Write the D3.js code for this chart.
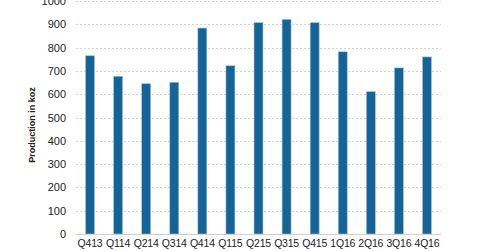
<!DOCTYPE html>
<html>
<head>
<meta charset="utf-8">
<script src="https://cdn.jsdelivr.net/npm/d3@7"></script>
<style>
body { margin: 0; background: #fff; }
text { font-family: "Liberation Sans", Arial, sans-serif; }
</style>
</head>
<body>
<div id="main"></div>
<script>
const Width = 480, Height = 251;

const quarters = ["Q413", "Q114", "Q214", "Q314", "Q414", "Q115", "Q215", "Q315", "Q415", "1Q16", "2Q16", "3Q16", "4Q16"];
const production = [765, 677, 645, 651, 884, 722, 907, 921, 907, 782, 611, 713, 760];
const yTicks = [0, 100, 200, 300, 400, 500, 600, 700, 800, 900, 1000];

const margin = {left: 76, top: 1, right: 39, bottom: 17};

const svg = d3.select("#main")
    .append("svg")
    .attr("width", Width)
    .attr("height", Height);

let Xscale = d3.scaleBand().domain(quarters).range([margin.left, Width - margin.right]).paddingInner(0.68).paddingOuter(0.34);
let Yscale = d3.scaleLinear().domain([0, 1000]).range([Height - margin.bottom, margin.top]);

// gridlines
svg.append("g").selectAll("line").data(yTicks.filter(d => d > 0)).enter().append("line")
    .attr("x1", margin.left).attr("x2", Width - margin.right)
    .attr("y1", d => Math.round(Yscale(d)) + 0.5).attr("y2", d => Math.round(Yscale(d)) + 0.5)
    .style("stroke", "#d4d4d4").style("stroke-dasharray", "2,2");

// bars
svg.append("g").selectAll("rect").data(production).enter().append("rect")
    .attr("x", (d, i) => Xscale(quarters[i]))
    .attr("y", d => Yscale(d))
    .attr("width", Xscale.bandwidth())
    .attr("height", d => Yscale(0) - Yscale(d))
    .attr("fill", "#146498")
    .attr("stroke", "#a9c3d8")
    .attr("stroke-width", 0.6);

// baseline
svg.append("line")
    .attr("x1", margin.left).attr("x2", Width - margin.right)
    .attr("y1", Yscale(0) + 0.5).attr("y2", Yscale(0) + 0.5)
    .style("stroke", "#d0d0d0");

// y tick labels
svg.append("g").selectAll("text").data(yTicks).enter().append("text")
    .attr("x", 66).attr("y", d => Yscale(d) + 4)
    .attr("text-anchor", "end")
    .style("font-size", "11px").style("fill", "#222")
    .text(d => d);

// x tick labels
svg.append("g").selectAll("text").data(quarters).enter().append("text")
    .attr("x", d => Xscale(d) + Xscale.bandwidth() / 2)
    .attr("y", 247)
    .attr("text-anchor", "middle")
    .style("font-size", "10.5px").style("letter-spacing", "-0.2px").style("fill", "#222")
    .text(d => d);

// y axis title
svg.append("text")
    .attr("transform", "translate(35,125) rotate(-90)")
    .attr("text-anchor", "middle")
    .style("font-size", "9px").style("font-weight", "bold").style("fill", "#222")
    .text("Production in koz");
</script>
</body>
</html>
